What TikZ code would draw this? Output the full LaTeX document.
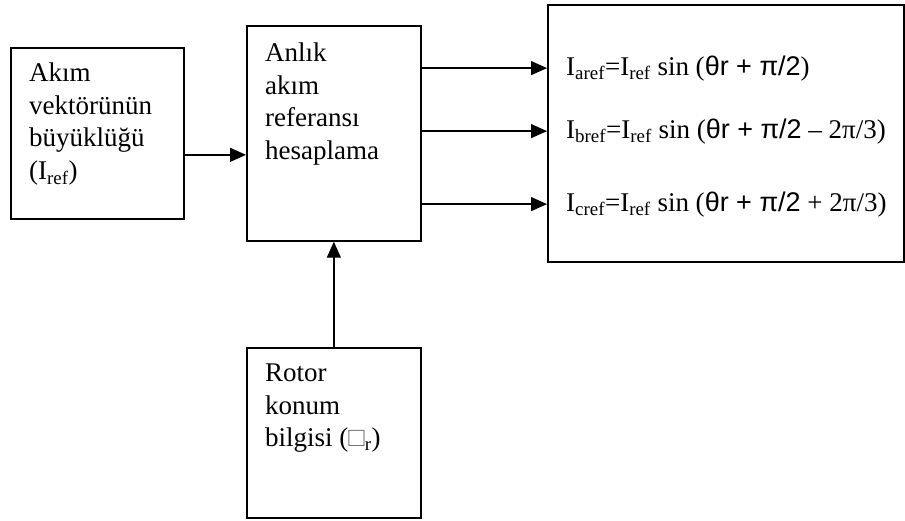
\documentclass[tikz,border=0pt]{standalone}
\usepackage{fontspec}
\setmainfont{Liberation Serif}
\newfontfamily\arialf{Liberation Sans}
\usetikzlibrary{positioning, arrows.meta, calc}
\tikzset{
    blockbox/.style={rectangle, draw=black, line width=1.7pt, anchor=north west, inner sep=0pt},
    blocktext/.style={anchor=north west, align=left, inner sep=0pt, font=\fontsize{27}{32.5}\selectfont},
    formtext/.style={anchor=base west, inner sep=0pt, font=\fontsize{27}{32}\selectfont},
    arr/.style={-{Triangle[length=16pt, width=14pt]}, line width=1.3pt}
}

\begin{document}
\begin{tikzpicture}[x=1pt, y=-1pt]
    \useasboundingbox (0,0) rectangle (905,520);

    % --- BLOCKS ---
    \node[blockbox, minimum width=173pt, minimum height=171pt] (iref) at (10,47) {};
    \node[blockbox, minimum width=174pt, minimum height=215pt] (anlik) at (246,25) {};
    \node[blockbox, minimum width=174pt, minimum height=170pt] (rotor) at (246,347) {};
    \node[blockbox, minimum width=356pt, minimum height=257pt] (formul) at (547,4) {};

    % --- BLOCK TEXTS ---
    \node[blocktext] (irefT) at ([xshift=19pt, yshift=-16pt]iref.north west) {Akım\\vektörünün\\büyüklüğü\\(I\textsubscript{ref})};
    \node[blocktext] (anlikT) at ([xshift=19pt, yshift=-18pt]anlik.north west) {Anlık\\akım\\referansı\\hesaplama};
    \node[blocktext] (rotorT) at ([xshift=19pt, yshift=-17pt]rotor.north west) {Rotor\\konum\\bilgisi ({\color{black!55}□}\textsubscript{r})};

    % --- FORMULAS ---
    \node[formtext] (aref) at (566,75) {I\textsubscript{aref}=I\textsubscript{ref} sin ({\arialf θr + π/2})};
    \node[formtext] (bref) at (566,138) {I\textsubscript{bref}=I\textsubscript{ref} sin ({\arialf θr + π/2} – 2π/3)};
    \node[formtext] (cref) at (566,211) {I\textsubscript{cref}=I\textsubscript{ref} sin ({\arialf θr + π/2} + 2π/3)};

    % --- CONNECTORS ---
    \draw[arr] ([yshift=-21.5pt]iref.east) -- ([yshift=-21.5pt]iref.east -| anlik.west);
    \draw[arr] (rotor.north) -- (anlik.south);
    \foreach \f in {aref, bref, cref}
        \draw[arr] (anlik.east |- \f.west) -- (\f.west -| formul.west);

\end{tikzpicture}
\end{document}
